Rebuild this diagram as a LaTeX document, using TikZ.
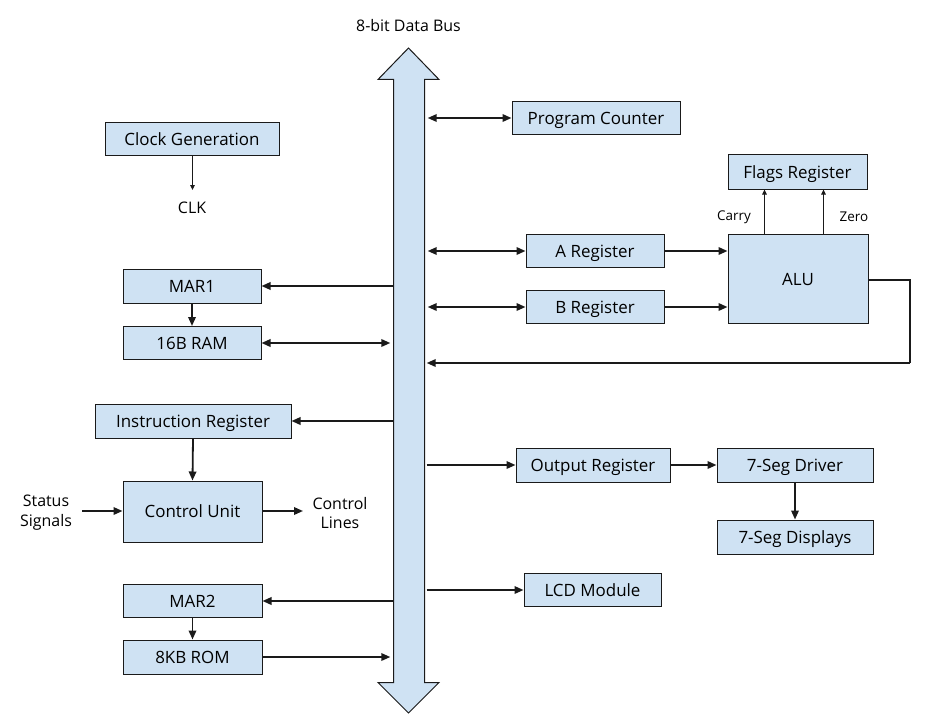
\documentclass[tikz,border=0pt]{standalone}
\usepackage{fontspec}
\setmainfont{Open Sans}
\usetikzlibrary{arrows.meta}
\definecolor{boxfill}{HTML}{CFE2F3}
\definecolor{edge}{HTML}{1A1A1A}
\tikzset{
  blk/.style={draw=edge, fill=boxfill, line width=1bp, inner sep=0pt,
    text height=12.5pt, text depth=0pt,
    font=\fontsize{17}{20}\selectfont},
  lbl/.style={inner sep=0pt, font=\fontsize{16}{20}\selectfont, align=center},
  slbl/.style={inner sep=0pt, font=\fontsize{13.5}{16}\selectfont},
  con/.style={line width=1.8bp, draw=edge, -{Triangle[length=9bp,width=7.5bp]}},
  bicon/.style={line width=1.8bp, draw=edge, {Triangle[length=9bp,width=7.5bp]}-{Triangle[length=9bp,width=7.5bp]}},
  thin/.style={line width=1bp, draw=edge, -{Triangle[length=5bp,width=4.5bp]}}
}
\begin{document}
\begin{tikzpicture}[x=1bp,y=-1bp]
\useasboundingbox (0,0) rectangle (934,728);
% data bus
\draw[draw=edge, fill=boxfill, line width=1bp]
  (393.5,79.5) -- (378,79.5) -- (408.5,48) -- (439,79.5) -- (424.5,79.5) -- (424.5,682.5)
  -- (439,682.5) -- (408.5,713) -- (378,682.5) -- (393.5,682.5) -- cycle;
\node[draw=none, minimum width=31bp, minimum height=603bp, inner sep=0pt] (bus) at (409,381) {};
\node[lbl] (buslbl) at (408.5,26) {8-bit Data Bus};

% blocks
\node[blk, minimum width=168bp, minimum height=33bp] (pc) at (596,118) {Program Counter};
\node[blk, minimum width=174bp, minimum height=33bp] (clk) at (192,139) {Clock Generation};
\node[blk, minimum width=138bp, minimum height=34bp] (mar1) at (192,286) {MAR1};
\node[blk, minimum width=138bp, minimum height=33bp] (ram) at (192,343) {16B RAM};
\node[blk, minimum width=138bp, minimum height=33bp] (areg) at (595,251) {A Register};
\node[blk, minimum width=138bp, minimum height=33bp] (breg) at (595,307) {B Register};
\node[blk, minimum width=140bp, minimum height=89bp] (alu) at (798,279) {ALU};
\node[blk, minimum width=139bp, minimum height=34bp] (flags) at (797.5,172) {Flags Register};
\node[blk, minimum width=196bp, minimum height=34bp] (ir) at (193,421) {Instruction Register};
\node[blk, minimum width=139bp, minimum height=61bp] (cu) at (192.5,511.5) {Control Unit};
\node[blk, minimum width=139bp, minimum height=33bp] (mar2) at (192.5,601) {MAR2};
\node[blk, minimum width=139bp, minimum height=34bp] (rom) at (192.5,657) {8KB ROM};
\node[blk, minimum width=154bp, minimum height=34bp] (outr) at (593,465) {Output Register};
\node[blk, minimum width=156bp, minimum height=34bp] (drv) at (795,465) {7-Seg Driver};
\node[blk, minimum width=156bp, minimum height=34bp] (disp) at (795,537) {7-Seg Displays};
\node[blk, minimum width=137bp, minimum height=33bp] (lcd) at (592.5,590) {LCD Module};

% labels
\node[lbl] (clklbl) at (192,208) {CLK};
\node[slbl] (carry) at (734,217) {Carry};
\node[slbl] (zero) at (854,217) {Zero};
\node[lbl] (status) at (46,513) {Status\\Signals};
\node[lbl] (ctrl) at (340,513) {Control\\Lines};

% coordinates
\coordinate (clkend) at (192.5,190);
\coordinate (cy0) at (764.5,234);
\coordinate (zr0) at (823.5,234);
\coordinate (fb1) at (910,280);
\coordinate (fb2) at (910,363);
\coordinate (stin) at (82,511);
\coordinate (ctout) at (303,511);

% connectors
\draw[bicon] ([xshift=3bp]bus.east |- pc) -- (pc.west);
\draw[thin] (clkend |- clk.south) -- (clkend);
\draw[con] (bus.west |- mar1) -- (mar1.east);
\draw[con] (mar1.south) -- (ram.north);
\draw[bicon] (ram.east) -- ([xshift=-3bp]bus.west |- ram);
\draw[bicon] ([xshift=3bp]bus.east |- areg) -- (areg.west);
\draw[bicon] ([xshift=3bp]bus.east |- breg) -- (breg.west);
\draw[con] (areg.east) -- (alu.west |- areg);
\draw[con] (breg.east) -- (alu.west |- breg);
\draw[thin] (cy0) -- (cy0 |- flags.south);
\draw[thin] (zr0) -- (zr0 |- flags.south);
\draw[line width=1.8bp, draw=edge] (alu.east |- fb1) -- (fb1) -- (fb2);
\draw[con] (fb2) -- ([xshift=2bp]bus.east |- fb2);
\draw[con] (bus.west |- ir) -- (ir.east);
\draw[con] (ir.south) -- (cu.north);
\draw[con] (stin) -- (cu.west |- stin);
\draw[con] (cu.east |- ctout) -- (ctout);
\draw[con] (bus.west |- mar2) -- (mar2.east);
\draw[con] (mar2.south) -- (rom.north);
\draw[con] (rom.east) -- ([xshift=-3bp]bus.west |- rom);
\draw[con] ([xshift=2bp]bus.east |- outr) -- (outr.west);
\draw[con] (outr.east) -- (drv.west);
\draw[con] (drv.south) -- (disp.north);
\draw[con] ([xshift=2bp]bus.east |- lcd) -- (lcd.west);
\end{tikzpicture}
\end{document}
